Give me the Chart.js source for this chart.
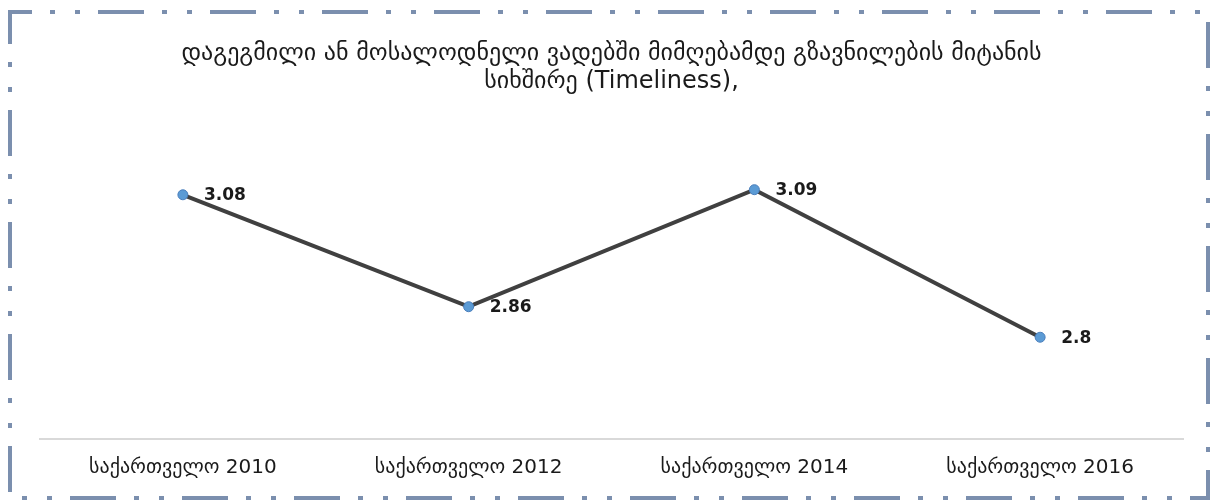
<!DOCTYPE html>
<html>
<head>
<meta charset="utf-8">
<script src="https://cdn.jsdelivr.net/npm/chart.js@4"></script>
<style>
html,body{margin:0;padding:0;background:#fff;}
#wrap{position:relative;width:1211px;height:504px;}
</style>
</head>
<body>
<div id="wrap"><canvas id="c" width="1211" height="504"></canvas></div>
<script>
const categories = ["საქართველო 2010", "საქართველო 2012", "საქართველო 2014", "საქართველო 2016"];
const values = [3.08, 2.86, 3.09, 2.8];
const valueLabels = ["3.08", "2.86", "3.09", "2.8"];
const titleLines = ["დაგეგმილი ან მოსალოდნელი ვადებში მიმღებამდე გზავნილების მიტანის", "სიხშირე (Timeliness),"];

const FONT = "'DejaVu Sans', 'Noto Sans', sans-serif";

const borderPlugin = {
  id: 'frame',
  afterDraw(chart) {
    const ctx = chart.ctx;
    ctx.save();
    ctx.strokeStyle = '#7b8fae';
    ctx.lineWidth = 4;
    ctx.setLineDash([46, 18, 5, 20, 5, 18]);
    ctx.lineDashOffset = 24;
    ctx.strokeRect(10, 12, 1198, 486);
    ctx.restore();
  }
};

const labelPlugin = {
  id: 'vlabels',
  afterDatasetsDraw(chart) {
    const ctx = chart.ctx;
    const meta = chart.getDatasetMeta(0);
    ctx.save();
    ctx.font = "bold 17px " + FONT;
    ctx.fillStyle = '#1a1a1a';
    ctx.textBaseline = 'middle';
    ctx.textAlign = 'left';
    meta.data.forEach((pt, i) => {
      ctx.fillText(valueLabels[i], pt.x + 21, pt.y + 1);
    });
    ctx.restore();
  }
};

new Chart(document.getElementById('c'), {
  type: 'line',
  data: {
    labels: categories,
    datasets: [{
      data: values,
      borderColor: '#404040',
      borderWidth: 4,
      tension: 0,
      pointRadius: 5,
      pointBackgroundColor: '#5b9bd5',
      pointBorderColor: '#4a7ebb',
      pointBorderWidth: 1,
      clip: false
    }]
  },
  options: {
    responsive: false,
    animation: false,
    devicePixelRatio: 1,
    layout: { padding: { left: 40, right: 28, top: 0, bottom: 7 } },
    plugins: {
      legend: { display: false },
      tooltip: { enabled: false },
      title: {
        display: true,
        text: titleLines,
        color: '#1a1a1a',
        font: { family: FONT, size: 24, weight: 'normal', lineHeight: 1.17 },
        padding: { top: 40, bottom: 63 }
      }
    },
    scales: {
      x: {
        offset: true,
        grid: { display: false, drawTicks: false },
        border: { display: true, color: '#d9d9d9', width: 2 },
        ticks: { color: '#1a1a1a', font: { family: FONT, size: 20 }, padding: 17, maxRotation: 0 }
      },
      y: {
        display: false,
        min: 2.6,
        max: 3.15
      }
    }
  },
  plugins: [borderPlugin, labelPlugin]
});
</script>
</body>
</html>
